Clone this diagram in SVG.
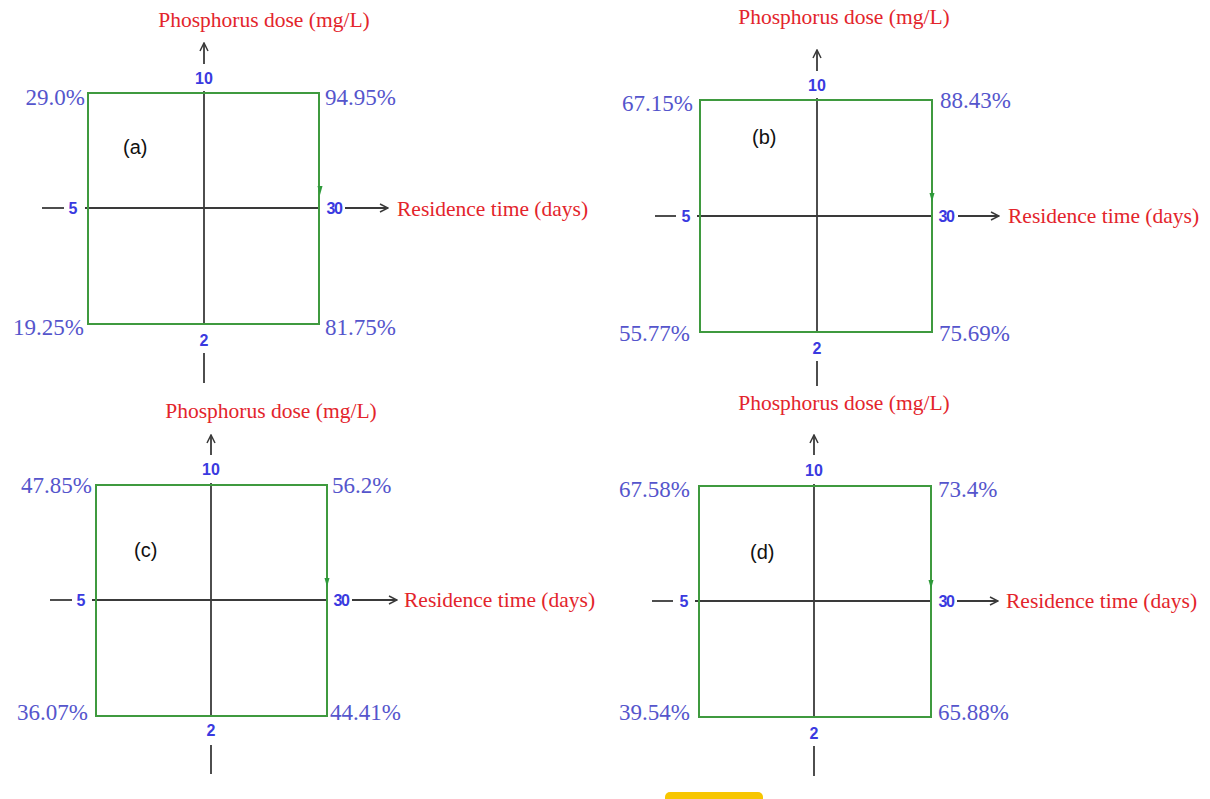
<svg xmlns="http://www.w3.org/2000/svg" width="1210" height="799" viewBox="0 0 1210 799">
<defs>
<marker id="arr" viewBox="0 0 10 10" refX="9" refY="5" markerWidth="10" markerHeight="10" markerUnits="userSpaceOnUse" orient="auto">
<path d="M1,1 L9,5 L1,9" fill="none" stroke="#3a3a3a" stroke-width="1.5"/>
</marker>
<style>
.box{fill:none;stroke:#3f9a3f;stroke-width:2}
.ax{stroke:#3a3a3a;stroke-width:1.8;fill:none}
.ar{stroke:#3a3a3a;stroke-width:1.8;fill:none;marker-end:url(#arr)}
.ttl{font-family:"Liberation Serif",serif;font-size:21.5px;fill:#e3242b}
.pct{font-family:"Liberation Serif",serif;font-size:23px;fill:#5555cc}
.tk{font-family:"Liberation Sans",Arial,sans-serif;font-size:16px;font-weight:bold;fill:#3a3ae0;text-anchor:middle}
.tk30{font-family:"Liberation Sans",Arial,sans-serif;font-size:16px;font-weight:bold;fill:#3a3ae0;text-anchor:middle;letter-spacing:-1.5px}
.lbl{font-family:"Liberation Sans",Arial,sans-serif;font-size:20px;fill:#111}
.gm{fill:#2e9a3a}
.e{text-anchor:end}
.m{text-anchor:middle}
</style>
</defs>
<rect width="1210" height="799" fill="#fff"/>

<g id="connectors">
<!-- panel a -->
<line class="ar" x1="204" y1="64" x2="204" y2="43"/>
<line class="ax" x1="204" y1="91" x2="204" y2="324"/>
<line class="ax" x1="204" y1="353" x2="204" y2="383"/>
<line class="ax" x1="42" y1="208" x2="64" y2="208"/>
<line class="ax" x1="85" y1="208" x2="320" y2="208"/>
<line class="ar" x1="345" y1="208" x2="388" y2="208"/>
<!-- panel b -->
<line class="ar" x1="817" y1="71" x2="817" y2="50"/>
<line class="ax" x1="817" y1="98" x2="817" y2="332"/>
<line class="ax" x1="817" y1="361" x2="817" y2="386"/>
<line class="ax" x1="655" y1="216" x2="676" y2="216"/>
<line class="ax" x1="697" y1="216" x2="932" y2="216"/>
<line class="ar" x1="958" y1="216" x2="999" y2="216"/>
<!-- panel c -->
<line class="ar" x1="211" y1="455" x2="211" y2="435"/>
<line class="ax" x1="211" y1="483" x2="211" y2="716"/>
<line class="ax" x1="211" y1="745" x2="211" y2="774"/>
<line class="ax" x1="50" y1="600" x2="72" y2="600"/>
<line class="ax" x1="92" y1="600" x2="327" y2="600"/>
<line class="ar" x1="352" y1="600" x2="397" y2="600"/>
<!-- panel d -->
<line class="ar" x1="814" y1="455" x2="814" y2="435"/>
<line class="ax" x1="814" y1="484" x2="814" y2="717"/>
<line class="ax" x1="814" y1="746" x2="814" y2="776"/>
<line class="ax" x1="652" y1="601" x2="673" y2="601"/>
<line class="ax" x1="695" y1="601" x2="931" y2="601"/>
<line class="ar" x1="957" y1="601" x2="998" y2="601"/>
</g>

<g id="panel-a">
<rect class="box" x="88" y="93" width="231" height="231"/>
<polygon class="gm" points="317.5,186 322.5,186 320,195"/>
<text class="ttl m" x="264" y="27">Phosphorus dose (mg/L)</text>
<text class="tk" x="204" y="84">10</text>
<text class="tk" x="73" y="214">5</text>
<text class="tk30" x="334" y="214">30</text>
<text class="tk" x="204" y="346">2</text>
<text class="ttl" x="397" y="216">Residence time (days)</text>
<text class="pct e" x="85" y="105">29.0%</text>
<text class="pct" x="325" y="105">94.95%</text>
<text class="pct e" x="84" y="335">19.25%</text>
<text class="pct" x="325" y="335">81.75%</text>
<text class="lbl" x="123" y="154">(a)</text>
</g>

<g id="panel-b">
<rect class="box" x="700" y="100" width="232" height="232"/>
<polygon class="gm" points="929.5,193 934.5,193 932,202"/>
<text class="ttl m" x="844" y="24">Phosphorus dose (mg/L)</text>
<text class="tk" x="817" y="91">10</text>
<text class="tk" x="686" y="222">5</text>
<text class="tk30" x="946" y="222">30</text>
<text class="tk" x="817" y="354">2</text>
<text class="ttl" x="1008" y="223">Residence time (days)</text>
<text class="pct e" x="693" y="111">67.15%</text>
<text class="pct" x="940" y="108">88.43%</text>
<text class="pct e" x="690" y="341">55.77%</text>
<text class="pct" x="939" y="341">75.69%</text>
<text class="lbl" x="752" y="144">(b)</text>
</g>

<g id="panel-c">
<rect class="box" x="96" y="485" width="231" height="231"/>
<polygon class="gm" points="324.5,578 329.5,578 327,587"/>
<text class="ttl m" x="271" y="418">Phosphorus dose (mg/L)</text>
<text class="tk" x="211" y="475">10</text>
<text class="tk" x="81" y="606">5</text>
<text class="tk30" x="341" y="606">30</text>
<text class="tk" x="211" y="736">2</text>
<text class="ttl" x="404" y="607">Residence time (days)</text>
<text class="pct e" x="92" y="493">47.85%</text>
<text class="pct" x="332" y="493">56.2%</text>
<text class="pct e" x="88" y="720">36.07%</text>
<text class="pct" x="330" y="720">44.41%</text>
<text class="lbl" x="134" y="557">(c)</text>
</g>

<g id="panel-d">
<rect class="box" x="699" y="486" width="232" height="231"/>
<polygon class="gm" points="928.5,580 933.5,580 931,589"/>
<text class="ttl m" x="844" y="410">Phosphorus dose (mg/L)</text>
<text class="tk" x="814" y="476">10</text>
<text class="tk" x="684" y="607">5</text>
<text class="tk30" x="946" y="607">30</text>
<text class="tk" x="814" y="739">2</text>
<text class="ttl" x="1006" y="608">Residence time (days)</text>
<text class="pct e" x="690" y="497">67.58%</text>
<text class="pct" x="938" y="497">73.4%</text>
<text class="pct e" x="690" y="720">39.54%</text>
<text class="pct" x="938" y="720">65.88%</text>
<text class="lbl" x="750" y="559">(d)</text>
</g>

<rect id="yellow-bar" x="665" y="792" width="98" height="12" rx="5" fill="#f7c600"/>
</svg>
